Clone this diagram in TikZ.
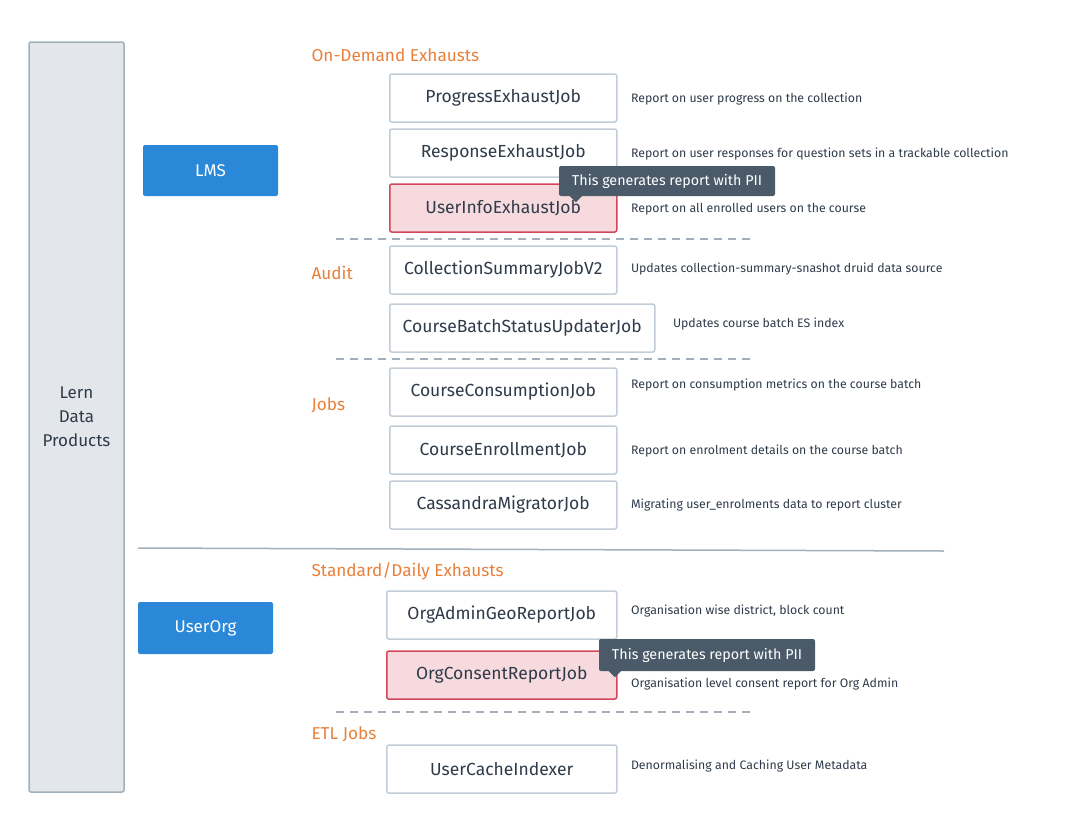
\documentclass[tikz,border=0pt]{standalone}
\usepackage{fontspec}
\setmainfont{Fira Sans}
\usetikzlibrary{positioning,calc}
\definecolor{inkdark}{HTML}{2F3B4A}
\definecolor{jobline}{HTML}{C3CDD7}
\definecolor{piifill}{HTML}{F7DADE}
\definecolor{piiline}{HTML}{D2475B}
\definecolor{tipfill}{HTML}{4A5A69}
\definecolor{grpblue}{HTML}{2B88D8}
\definecolor{sectorange}{HTML}{E8803A}
\definecolor{panelfill}{HTML}{E3E7EB}
\definecolor{panelline}{HTML}{A2B0BD}
\definecolor{sepline}{HTML}{A3AFBA}

\begin{document}
\begin{tikzpicture}[x=1pt,y=-1pt]
        \tikzset{
            style job/.style={draw=jobline,fill=white,line width=1.5pt,rounded corners=2pt,
                minimum width=227pt,minimum height=48pt,anchor=west,text=inkdark,
                font=\fontsize{17.5}{20}\selectfont},
            style pii/.style={style job,draw=piiline,fill=piifill},
            style desc/.style={anchor=west,text=inkdark,font=\fontsize{12.3}{15}\selectfont},
            style group/.style={fill=grpblue,rounded corners=2pt,minimum width=135pt,
                minimum height=51pt,text=white,font=\fontsize{17}{20}\selectfont},
            style section/.style={anchor=west,text=sectorange,font=\fontsize{17.2}{20}\selectfont},
            style tip/.style={fill=tipfill,rounded corners=2pt,minimum width=216pt,
                minimum height=30pt,text=white,font=\fontsize{14.3}{17}\selectfont},
            style dash/.style={draw=sepline,line width=1.5pt,dash pattern=on 8pt off 6pt}
        };
        \useasboundingbox (0,0) rectangle (1089,812);
        % left panel
        \node[draw=panelline,fill=panelfill,line width=1.5pt,rounded corners=2pt,
            minimum width=95pt,minimum height=750pt,align=center,text=inkdark,
            font=\fontsize{17}{24}\selectfont] (lern) at (76.5,417)
            {Lern\\Data\\Products};
        % groups
        \node[style group] (lms) at (210.5,170.5) {LMS};
        \node[style group,minimum height=52pt] (userorg) at (205.5,628) {UserOrg};
        % sections
        \node[style section] (secdemand) at (308,55) {On-Demand Exhausts};
        \node[style section] (secaudit) at (308,273) {Audit};
        \node[style section] (secjobs) at (308,405) {Jobs};
        \node[style section] (secdaily) at (308,571) {Standard/Daily Exhausts};
        \node[style section] (secetl) at (308,734) {ETL Jobs};
        % LMS jobs
        \node[style job] (progress) at (389,98) {ProgressExhaustJob};
        \node[style job] (response) at (389,153) {ResponseExhaustJob};
        \node[style pii] (userinfo) at (389,208) {UserInfoExhaustJob};
        \node[style job] (collsummary) at (389,270) {CollectionSummaryJobV2};
        \node[style job,minimum width=265pt] (batchstatus) at (389,328) {CourseBatchStatusUpdaterJob};
        \node[style job] (consumption) at (389,392) {CourseConsumptionJob};
        \node[style job] (enrollment) at (389,450) {CourseEnrollmentJob};
        \node[style job] (cassandra) at (389,505) {CassandraMigratorJob};
        % UserOrg jobs
        \node[style job,minimum width=230pt] (orggeo) at (386,615) {OrgAdminGeoReportJob};
        \node[style pii,minimum width=230pt] (orgconsent) at (386,675) {OrgConsentReportJob};
        \node[style job,minimum width=230pt] (cacheindexer) at (386,769) {UserCacheIndexer};
        % descriptions
        \node[style desc,right=10pt of progress,yshift=-1pt] (dprogress) {Report on user progress on the collection};
        \node[style desc,right=10pt of response,yshift=-1pt] (dresponse) {Report on user responses for question sets in a trackable collection};
        \node[style desc,right=10pt of userinfo,yshift=-1pt] (duserinfo) {Report on all enrolled users on the course};
        \node[style desc,right=10pt of collsummary,yshift=1pt] (dcollsummary) {Updates collection-summary-snashot druid data source};
        \node[style desc,right=14pt of batchstatus,yshift=4pt] (dbatchstatus) {Updates course batch ES index};
        \node[style desc,right=10pt of consumption,yshift=7pt] (dconsumption) {Report on consumption metrics on the course batch};
        \node[style desc,right=10pt of enrollment,yshift=-1pt] (denrollment) {Report on enrolment details on the course batch};
        \node[style desc,right=10pt of cassandra] (dcassandra) {Migrating user\_enrolments data to report cluster};
        \node[style desc,right=10pt of orggeo,yshift=4pt] (dorggeo) {Organisation wise district, block count};
        \node[style desc,right=10pt of orgconsent,yshift=-9pt] (dorgconsent) {Organisation level consent report for Org Admin};
        \node[style desc,right=10pt of cacheindexer,yshift=3pt] (dcacheindexer) {Denormalising and Caching User Metadata};
        % separators
        \draw[style dash] (336,239) -- (752,239);
        \draw[style dash] (336,359) -- (752,359);
        \draw[style dash] (336,712) -- (752,712);
        \draw[draw=sepline,line width=1.5pt] (138,548) -- (944,551);
        % PII tooltips
        \node[style tip] (tipinfo) at (667,181) {This generates report with PII};
        \fill[tipfill] ($(tipinfo.south west)+(11,0)$) -- ++(6,6) -- ++(6,-6) -- cycle;
        \node[style tip,minimum height=32pt] (tipconsent) at (707,655) {This generates report with PII};
        \fill[tipfill] ($(tipconsent.south west)+(10,0)$) -- ++(6,6) -- ++(6,-6) -- cycle;
    \end{tikzpicture}
\end{document}
